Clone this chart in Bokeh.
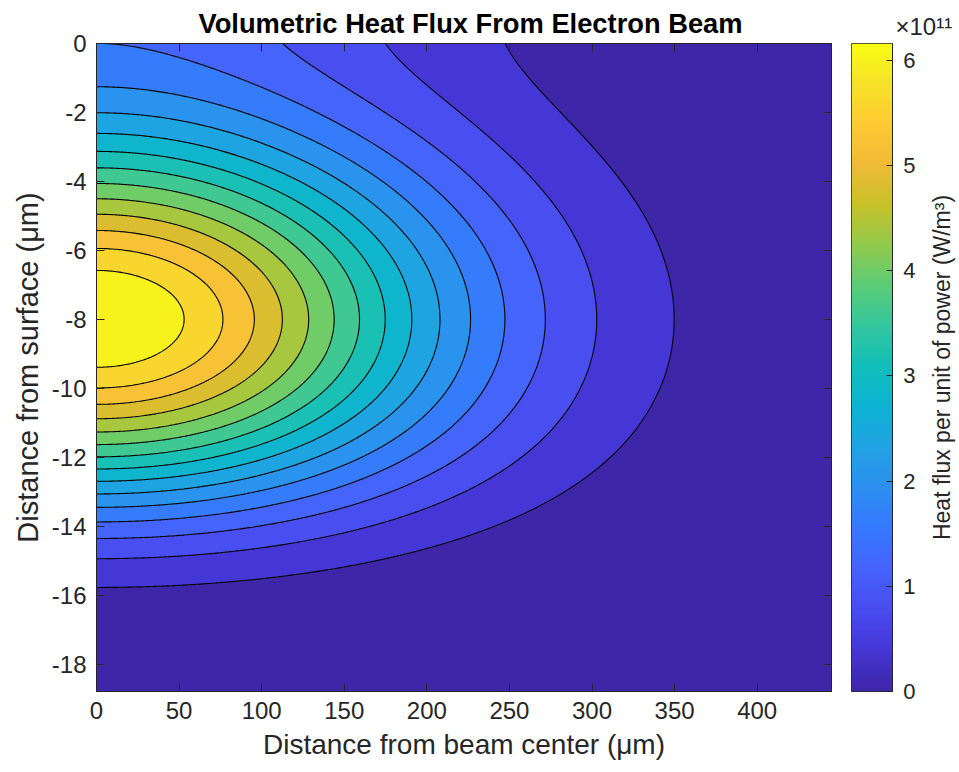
import numpy as np
from bokeh.plotting import figure
from bokeh.layouts import row
from bokeh.models import LinearAxis, FixedTicker, Range1d, LinearColorMapper
from bokeh.core.properties import value
from bokeh.embed import file_html
from bokeh.resources import INLINE

# ---------------- values (heat flux in 1e11 W/m^3) ----------------
levels = [0.4, 0.8, 1.2, 1.6, 2.0, 2.4, 2.8, 3.2, 3.6, 4.0, 4.4, 4.8, 5.2, 5.6, 6.0]

# depth (um) at which each contour level crosses the beam axis (x = 0), above the peak
axis_levels_above = [2.0, 2.4, 2.8, 3.2, 3.6, 4.0, 4.4, 4.8, 5.2, 5.6, 6.0]
axis_depth_above = [1.34, 2.04, 2.59, 3.10, 3.58, 4.02, 4.50, 4.92, 5.42, 5.98, 6.58]
# ... and below the peak
axis_levels_below = [6.0, 5.6, 5.2, 4.8, 4.4, 4.0, 3.6, 3.2, 2.8, 2.4, 2.0, 1.6, 1.2, 0.8, 0.4]
axis_depth_below = [9.40, 9.99, 10.44, 10.88, 11.22, 11.60, 11.97, 12.31, 12.69, 13.05,
                    13.44, 13.85, 14.36, 14.94, 15.74]
peak_depth = 8.0

# radial distance (um) at which each level crosses the peak depth (y = -8 um)
radial_levels = [6.0, 5.6, 5.2, 4.8, 4.4, 4.0, 3.6, 3.2, 2.8, 2.4, 2.0, 1.6, 1.2, 0.8, 0.4]
radial_cross = [53.2, 76.4, 95.6, 112.7, 127.9, 143.6, 159.4, 175.0, 191.2, 207.9,
                226.5, 247.1, 271.9, 302.8, 349.7]

# radial distance (um) at which levels cross the surface (y = 0)
surface_levels = [1.6, 1.2, 0.8, 0.4]
surface_cross = [18.0, 114.4, 176.0, 248.7]

x_max = 445.0          # right end of x axis (um)
depth_max = 18.77      # bottom of y axis (um below surface)
color_max = 6.16       # top of colour bar (1e11 W/m^3)

x_ticks = [0, 50, 100, 150, 200, 250, 300, 350, 400]
y_ticks = [-18, -16, -14, -12, -10, -8, -6, -4, -2, 0]
cb_ticks = [0, 1, 2, 3, 4, 5, 6]

title = "Volumetric Heat Flux From Electron Beam"
x_label = "Distance from beam center (\u03bcm)"
y_label = "Distance from surface (\u03bcm)"
cb_label = "Heat flux per unit of power (W/m\u00b3)"
cb_exponent = "\u00d710\u00b9\u00b9"

# ---------------- parula colour map (style) ----------------
_par_idx = [0, 16, 32, 48, 64, 80, 96, 112, 128, 144, 160, 176, 192, 208, 224, 240, 255]
_par_rgb = [
    (0.2422, 0.1504, 0.6603), (0.2704, 0.2138, 0.8346), (0.2813, 0.2985, 0.9397),
    (0.2710, 0.3860, 0.9898), (0.2066, 0.4743, 0.9926), (0.1740, 0.5605, 0.9432),
    (0.1321, 0.6363, 0.8932), (0.0535, 0.7006, 0.8299), (0.0638, 0.7446, 0.7292),
    (0.2003, 0.7787, 0.6146), (0.3548, 0.8016, 0.4669), (0.5748, 0.7929, 0.2941),
    (0.7829, 0.7579, 0.1608), (0.9440, 0.7285, 0.2151), (0.9949, 0.7915, 0.2012),
    (0.9608, 0.8902, 0.1532), (0.9769, 0.9839, 0.0805)]
_rgb = np.array(_par_rgb)
parula = []
for i in range(256):
    c = [np.interp(i, _par_idx, _rgb[:, k]) for k in range(3)]
    parula.append("#%02x%02x%02x" % tuple(int(round(v * 255)) for v in c))


def cmap_index(v):
    return int(min(255, max(0, np.floor(v / color_max * 256))))


# ---------------- build the field from the readings ----------------
# radial profile: Gaussian fitted to the radial crossings at the peak depth
rc = np.array(radial_cross)
A = np.column_stack([np.ones_like(rc), -rc ** 2])
coef, *_ = np.linalg.lstsq(A, np.log(radial_levels), rcond=None)
peak_value = float(np.exp(coef[0]))
w = 1.0 / coef[1]

surface_value = float(np.mean(np.array(surface_levels) * np.exp(np.array(surface_cross) ** 2 / w)))

knot_d = np.array([0.0] + axis_depth_above + [peak_depth] + axis_depth_below)
knot_v = np.array([surface_value] + axis_levels_above + [peak_value] + axis_levels_below)
# smooth depth profile: D = peak * exp(-s^2), s(depth) a smooth fit through the readings
knot_s = np.sign(knot_d - peak_depth) * np.sqrt(np.log(peak_value / knot_v))
s_poly = np.polyfit(knot_d, knot_s, 5)
d_last = knot_d[-1]
s_slope = np.polyval(np.polyder(s_poly), d_last)

xs = np.linspace(0, x_max, 450)
ys = np.linspace(-depth_max, 0, 520)
depth = -ys
s = np.where(depth <= d_last, np.polyval(s_poly, depth),
             np.polyval(s_poly, d_last) + s_slope * (depth - d_last))
D = peak_value * np.exp(-s ** 2)
Z = D[:, None] * np.exp(-xs[None, :] ** 2 / w)

fill_levels = [-0.001] + levels + [float(Z.max()) + 0.001]
fill_colors = [parula[0]] + [parula[cmap_index(l)] for l in levels]

# ---------------- main figure ----------------
FONT = "Liberation Sans"
TXT = "#262626"
TOP, BOTTOM = 43, 81

p = figure(width=840, height=772, x_range=Range1d(0, x_max), y_range=Range1d(-depth_max, 0),
           output_backend="svg", toolbar_location=None,
           min_border_left=96, min_border_right=9, min_border_top=TOP, min_border_bottom=BOTTOM)
p.contour(x=xs, y=ys, z=Z, levels=fill_levels, fill_color=fill_colors, line_color=None)
p.contour(x=xs, y=ys, z=Z, levels=levels, fill_color=None, line_color="black", line_width=1.1)

p.xgrid.visible = False
p.ygrid.visible = False
p.outline_line_color = TXT

for ax, ticks in ((p.xaxis[0], x_ticks), (p.yaxis[0], y_ticks)):
    ax.ticker = FixedTicker(ticks=ticks)
    ax.major_tick_in = 8
    ax.major_tick_out = 0
    ax.minor_tick_line_color = None
    ax.axis_line_color = TXT
    ax.major_tick_line_color = TXT
    ax.major_label_text_font = FONT
    ax.major_label_text_font_size = "24px"
    ax.major_label_text_color = TXT
    ax.major_label_standoff = 10
    ax.axis_label_text_font = FONT
    ax.axis_label_text_font_style = "normal"
    ax.axis_label_text_color = TXT
p.yaxis[0].major_label_overrides = {t: str(t) for t in y_ticks}
p.xaxis[0].axis_label = x_label
p.yaxis[0].axis_label = y_label
p.xaxis[0].axis_label_text_font_size = "28px"
p.yaxis[0].axis_label_text_font_size = "29px"
p.xaxis[0].axis_label_standoff = 7
p.yaxis[0].axis_label_standoff = 5


def box_axis(ticks):
    # tick marks only (MATLAB "box on"): no tick labels drawn
    return LinearAxis(ticker=FixedTicker(ticks=ticks), major_tick_in=8, major_tick_out=0,
                      minor_tick_line_color=None, major_label_text_font_size="1px",
                      major_label_text_color=None, major_label_standoff=0,
                      axis_line_color=TXT, major_tick_line_color=TXT)


p.add_layout(box_axis(x_ticks), "above")
p.add_layout(box_axis(y_ticks), "right")

p.title.text = title
p.title.align = "left"
p.title.offset = 102
p.title.text_font = FONT
p.title.text_font_size = "27.3px"
p.title.text_font_style = "bold"
p.title.text_color = "black"
p.title.standoff = 10

# ---------------- colour bar (the bar itself) ----------------
cb = figure(width=54, height=772, x_range=Range1d(0, 1), y_range=Range1d(0, color_max),
            output_backend="svg", toolbar_location=None, y_axis_location="right",
            min_border_left=11, min_border_right=2, min_border_top=TOP, min_border_bottom=BOTTOM)
grad = np.linspace(0, color_max, 256).reshape(-1, 1)
cb.image(image=[grad], x=0, y=0, dw=1, dh=color_max,
         color_mapper=LinearColorMapper(palette=parula, low=0, high=color_max))
cb.xaxis.visible = False
cb.xgrid.visible = False
cb.ygrid.visible = False
cb.outline_line_color = TXT
yax = cb.yaxis[0]
yax.ticker = FixedTicker(ticks=cb_ticks)
yax.major_tick_in = 6
yax.major_tick_out = 0
yax.minor_tick_line_color = None
yax.axis_line_color = TXT
yax.major_tick_line_color = TXT
yax.major_label_text_font_size = "1px"
yax.major_label_text_color = None
yax.major_label_standoff = 0

# ---------------- colour bar tick labels, exponent and label ----------------
cl = figure(width=65, height=772, x_range=Range1d(0, 1), y_range=Range1d(0, color_max),
            output_backend="svg", toolbar_location=None,
            min_border_left=26, min_border_right=0, min_border_top=TOP, min_border_bottom=BOTTOM)
cl.xaxis.visible = False
cl.xgrid.visible = False
cl.ygrid.visible = False
cl.outline_line_color = None
lax = cl.yaxis[0]
lax.ticker = FixedTicker(ticks=cb_ticks)
lax.axis_line_color = None
lax.major_tick_line_color = None
lax.minor_tick_line_color = None
lax.major_tick_out = 0
lax.major_tick_in = 0
lax.major_label_text_font = FONT
lax.major_label_text_font_size = "22px"
lax.major_label_text_color = TXT
lax.major_label_standoff = 5

cl.title.text = cb_exponent
cl.title.align = "left"
cl.title.offset = -25
cl.title.text_font = FONT
cl.title.text_font_size = "24px"
cl.title.text_font_style = "normal"
cl.title.text_color = TXT
cl.title.standoff = 8

cl.text(x=[0.54], y=[color_max / 2], text=[cb_label], angle=np.pi / 2,
        text_font=value(FONT), text_font_size=value("23px"), text_color=TXT,
        text_align="center", text_baseline="middle")

layout = row(p, cb, cl)
open("out.html", "w").write(file_html(layout, INLINE))
